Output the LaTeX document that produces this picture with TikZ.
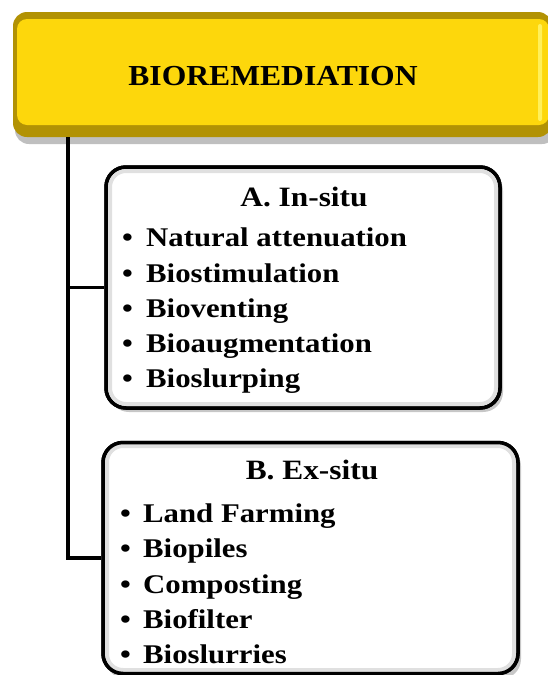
\documentclass[tikz,border=0pt]{standalone}
\usepackage{fontspec}
\setmainfont{Liberation Serif}
\newfontfamily\itemfont[FakeStretch=1.14]{Liberation Serif}
\newfontfamily\hdfont[FakeStretch=1.12]{Liberation Serif}
\newfontfamily\ttlfont[FakeStretch=1.09]{Liberation Serif}
\definecolor{ymain}{RGB}{253,215,12}
\definecolor{ydark}{RGB}{178,146,4}
\definecolor{ylight}{RGB}{255,240,90}
\begin{document}
\begin{tikzpicture}[x=1pt,y=-1pt,
  gbox/.style={draw=black, line width=3.5pt, rounded corners=20pt, fill=white, inner sep=0pt},
  itm/.style={anchor=base west, inner sep=0pt, font=\itemfont\bfseries\fontsize{27}{30}\selectfont},
  hd/.style={anchor=base, inner sep=0pt, font=\hdfont\bfseries\fontsize{28}{30}\selectfont},
  ttl/.style={anchor=base, inner sep=0pt, font=\ttlfont\bfseries\fontsize{29}{32}\selectfont},
  link/.style={line width=3.5pt, line join=miter},
  shade/.style={fill=black!22, rounded corners=20pt}]
\useasboundingbox (0,0) rectangle (547,675);
% shadows
\fill[black!25, rounded corners=14pt] (15,18) rectangle (556,144);
\fill[shade] (109,171) rectangle (503,412);
\fill[shade] (106,446) rectangle (521,679);
% yellow title box
\node[fill=ydark, rounded corners=14pt, minimum width=539pt, minimum height=125pt, inner sep=0pt] (bio) at (282.5,74.5) {};
\fill[ymain, rounded corners=10pt] (17,19) rectangle (549,125);
\fill[ylight, rounded corners=2pt] (538,24) rectangle (542,121);
\node[ttl] (title) at (273,85) {BIOREMEDIATION};
% trunk and links
\coordinate (t) at (68,137);
\node[gbox, minimum width=394pt, minimum height=241pt] (A) at (303,287.5) {};
\node[gbox, minimum width=415pt, minimum height=231pt] (B) at (310.5,558) {};
\draw[link] (t) |- (A.west);
\draw[link] (t) |- (B.west);
% inner soft edges
\draw[black!12, line width=4pt, rounded corners=16pt] (110,171) rectangle (496,404);
\draw[black!12, line width=4pt, rounded corners=16pt] (107,446) rectangle (514,670);
\node[gbox, fill=none, minimum width=394pt, minimum height=241pt] (A2) at (303,287.5) {};
\node[gbox, fill=none, minimum width=415pt, minimum height=231pt] (B2) at (310.5,558) {};
% box A text
\node[hd] (ah) at (304,206) {A. In-situ};
\node[itm] (ab1) at (122,246) {•};
\node[itm] (a1) at (146,246) {Natural attenuation};
\node[itm] (ab2) at (122,282) {•};
\node[itm] (a2) at (146,282) {Biostimulation};
\node[itm] (ab3) at (122,317) {•};
\node[itm] (a3) at (146,317) {Bioventing};
\node[itm] (ab4) at (122,352) {•};
\node[itm] (a4) at (146,352) {Bioaugmentation};
\node[itm] (ab5) at (122,387) {•};
\node[itm] (a5) at (146,387) {Bioslurping};
% box B text
\node[hd] (bh) at (312,479) {B. Ex-situ};
\node[itm] (bb1) at (120,522) {•};
\node[itm] (b1) at (143,522) {Land Farming};
\node[itm] (bb2) at (120,557) {•};
\node[itm] (b2) at (143,557) {Biopiles};
\node[itm] (bb3) at (120,593) {•};
\node[itm] (b3) at (143,593) {Composting};
\node[itm] (bb4) at (120,628) {•};
\node[itm] (b4) at (143,628) {Biofilter};
\node[itm] (bb5) at (120,663) {•};
\node[itm] (b5) at (143,663) {Bioslurries};
\end{tikzpicture}
\end{document}
